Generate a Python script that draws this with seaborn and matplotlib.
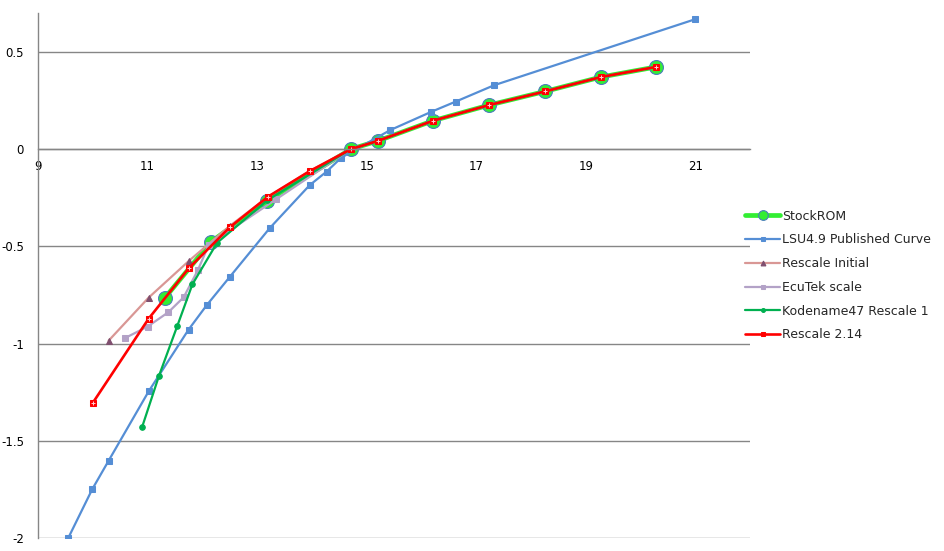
import matplotlib
matplotlib.use('Agg')
import matplotlib.pyplot as plt
import seaborn as sns

# series
stock_x = [11.32, 12.16, 13.19, 14.71, 15.21, 16.22, 17.24, 18.26, 19.28, 20.29]
stock_y = [-0.763, -0.476, -0.265, 0.0, 0.043, 0.147, 0.227, 0.297, 0.371, 0.423]

lsu_x = [9.55, 9.99, 10.29, 11.02, 11.75, 12.08, 12.5, 13.23, 13.96, 14.27, 14.54,
         15.43, 16.18, 16.63, 17.33, 21.0]
lsu_y = [-2.0, -1.748, -1.601, -1.245, -0.927, -0.802, -0.657, -0.406, -0.185, -0.115, -0.043,
         0.098, 0.192, 0.245, 0.329, 0.668]

init_x = [10.29, 11.02, 11.76, 12.5, 13.2, 13.96, 14.71, 15.21, 16.22, 17.24, 18.26, 19.28, 20.29]
init_y = [-0.984, -0.763, -0.573, -0.395, -0.245, -0.112, 0.0, 0.043, 0.147, 0.227, 0.297, 0.371, 0.423]

ecutek_x = [10.58, 11.0, 11.38, 11.66, 11.92, 12.12, 13.35, 14.71, 15.21, 16.22, 17.24, 18.26, 19.28, 20.29]
ecutek_y = [-0.972, -0.912, -0.838, -0.761, -0.621, -0.49, -0.257, 0.0, 0.043, 0.147, 0.227, 0.297, 0.371, 0.423]

kode_x = [10.90, 11.21, 11.54, 11.82, 12.27, 13.19, 14.71, 15.21, 16.22, 17.24, 18.26, 19.28, 20.29]
kode_y = [-1.429, -1.164, -0.911, -0.694, -0.481, -0.262, 0.0, 0.043, 0.147, 0.227, 0.297, 0.371, 0.423]

r214_x = [10.0, 11.02, 11.75, 12.5, 13.2, 13.96, 14.71, 15.21, 16.22, 17.24, 18.26, 19.28, 20.29]
r214_y = [-1.304, -0.871, -0.613, -0.402, -0.244, -0.113, 0.0, 0.043, 0.147, 0.227, 0.297, 0.371, 0.423]

x_ticks = [9, 11, 13, 15, 17, 19, 21]
y_ticks = [-2, -1.5, -1, -0.5, 0, 0.5]

sns.set_style('white')
plt.rcParams['font.family'] = ['DejaVu Sans']

grid_col = '#868686'

fig = plt.figure(figsize=(9.44, 5.51), dpi=100)
ax = fig.add_axes([38 / 944, 1 - 538.3 / 551, 712 / 944, 525.3 / 551])

common = dict(ax=ax, sort=False, estimator=None)

sns.lineplot(x=stock_x, y=stock_y, color='#33EE33', linewidth=3.4, marker='o', markersize=10,
             markerfacecolor='#33EE33', markeredgecolor='#4A7EBB', markeredgewidth=0.8,
             label='StockROM', **common)
sns.lineplot(x=lsu_x, y=lsu_y, color='#558ED5', linewidth=1.6, marker='s', markersize=4.5,
             markerfacecolor='#558ED5', markeredgecolor='#558ED5',
             label='LSU4.9 Published Curve', **common)
sns.lineplot(x=init_x, y=init_y, color='#D99795', linewidth=1.6, marker='^', markersize=5,
             markerfacecolor='#7F4F6F', markeredgecolor='#7F4F6F',
             label='Rescale Initial', **common)
sns.lineplot(x=ecutek_x, y=ecutek_y, color='#B3A2C7', linewidth=1.6, marker='s', markersize=5,
             markerfacecolor='#B3A2C7', markeredgecolor='#B3A2C7',
             label='EcuTek scale', **common)
sns.lineplot(x=kode_x, y=kode_y, color='#00B050', linewidth=1.6, marker='o', markersize=4,
             markerfacecolor='#00B050', markeredgecolor='#00B050',
             label='Kodename47 Rescale 1', **common)
sns.lineplot(x=r214_x, y=r214_y, color='#FF0000', linewidth=1.9, marker='s', markersize=5,
             markerfacecolor='#FF0000', markeredgecolor='#FF0000',
             label='Rescale 2.14', **common)
# white cross inside the red squares
ax.plot(r214_x, r214_y, linestyle='none', marker='+', markersize=3.5,
        markeredgecolor='#FFD0D0', markeredgewidth=0.7)

ax.set_xlim(9, 22)
ax.set_ylim(-2, 0.7)
ax.set_xticks(x_ticks)
ax.set_yticks(y_ticks)
ax.set_xticklabels([str(t) for t in x_ticks])
ax.set_yticklabels(['-2', '-1.5', '-1', '-0.5', '0', '0.5'])

ax.yaxis.grid(True, color=grid_col, linewidth=1.0)
ax.xaxis.grid(False)
ax.set_axisbelow(True)

for s in ['top', 'right']:
    ax.spines[s].set_visible(False)
ax.spines['bottom'].set_position(('data', 0))
ax.spines['bottom'].set_color(grid_col)
ax.spines['left'].set_color(grid_col)
ax.spines['bottom'].set_linewidth(1.0)
ax.spines['left'].set_linewidth(1.0)

ax.tick_params(axis='x', direction='out', length=3, width=1, color=grid_col,
               pad=5, labelsize=8.5, labelcolor='black')
ax.tick_params(axis='y', direction='out', length=3, width=1, color=grid_col,
               pad=7, labelsize=8.5, labelcolor='black')
ax.set_xlabel('')
ax.set_ylabel('')

ax.get_legend().remove()
handles, labels = ax.get_legend_handles_labels()
fig.legend(handles[:6], labels[:6], loc='center left', bbox_to_anchor=(745 / 944, 1 - 275.5 / 551),
           frameon=False, fontsize=9, handlelength=2.8, handletextpad=0.2,
           labelspacing=0.86, borderpad=0, borderaxespad=0, markerscale=0.7)

fig.savefig('out.png', dpi=100)
